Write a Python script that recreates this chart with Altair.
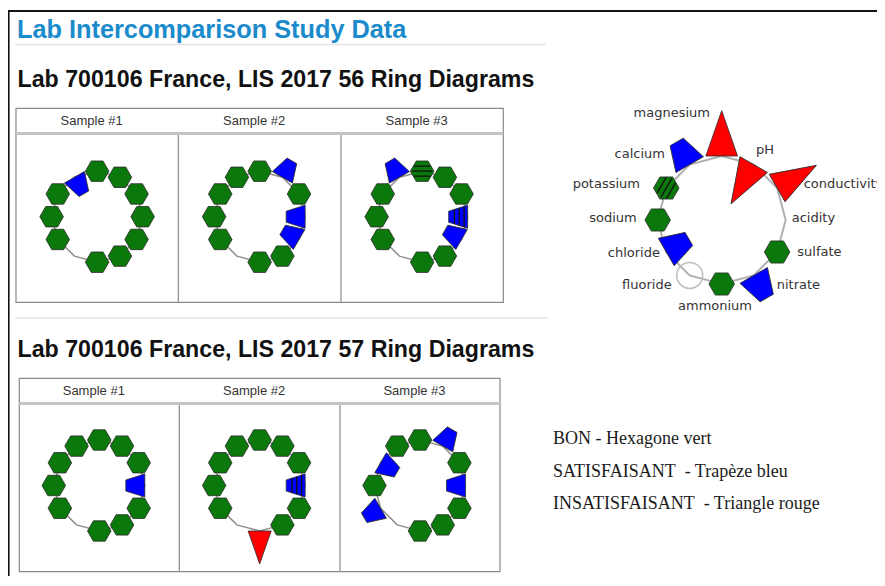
import math
import altair as alt
import pandas as pd

# ---------------- data ----------------
ANALYTES = ["magnesium", "pH", "conductivity", "acidity", "sulfate", "nitrate",
            "ammonium", "fluoride", "chloride", "sodium", "potassium", "calcium"]

# status codes: G good (hexagon), GH good hatched, SO/SI satisfactory (trapezoid out/in),
# SIH satisfactory inward hatched, UO/UI unsatisfactory (triangle out/in), NA no result (open circle), - absent
STUDY56_S1 = ["G", "G", "G", "G", "G", "G", "G", "-", "G", "G", "G", "SI"]
STUDY56_S2 = ["G", "SO", "G", "SI", "SI", "G", "G", "-", "G", "G", "G", "G"]
STUDY56_S3 = ["GH", "G", "G", "SIH", "SI", "G", "G", "-", "G", "G", "G", "SO"]
STUDY57_S1 = ["G", "G", "G", "SI", "G", "G", "G", "-", "G", "G", "G", "G"]
STUDY57_S2 = ["G", "G", "G", "SIH", "G", "G", "UO", "-", "G", "G", "G", "G"]
STUDY57_S3 = ["G", "SO", "G", "SI", "G", "G", "G", "-", "SO", "G", "SI", "G"]
LEGEND_RING = ["UO", "UI", "UO", "-", "G", "SO", "G", "NA", "SI", "G", "GH", "SO"]

SAMPLES = ["Sample #1", "Sample #2", "Sample #3"]
PAGE_TITLE = "Lab Intercomparison Study Data"
STUDY_TITLES = ["Lab 700106 France, LIS 2017 56 Ring Diagrams",
                "Lab 700106 France, LIS 2017 57 Ring Diagrams"]
KEY_LINES = ["BON - Hexagone vert",
             "SATISFAISANT\u00a0 - Trap\u00e8ze bleu",
             "INSATISFAISANT\u00a0 - Triangle rouge"]

# ---------------- layout / style ----------------
X0, X1 = 8, 877
Y0, Y1 = 8, 576
W, H = X1 - X0, Y1 - Y0
XS = alt.Scale(domain=[X0, X1], nice=False, zero=False)
YS = alt.Scale(domain=[Y0, Y1], nice=False, zero=False, reverse=True)

GREEN, BLUE, RED = "#0a780a", "#0000ff", "#ff0000"
TABLES = [
    dict(left=16, right=503.3, top=108.3, sep=133.6, bottom=302.3, cols=[178.3, 341.0],
         title_y=87, head_y=120.7, cy=216.7),
    dict(left=19.3, right=500.0, top=378.3, sep=403.6, bottom=571.7, cols=[179.3, 340.0],
         title_y=357, head_y=390.7, cy=485.5),
]
STUDIES = [[STUDY56_S1, STUDY56_S2, STUDY56_S3], [STUDY57_S1, STUDY57_S2, STUDY57_S3]]
RING_R, RING_K, RING_HEX_K = 45.5, 12, 13.1
LEG_CX, LEG_CY, LEG_R, LEG_K, LEG_HEX_K = 721.7, 220, 64, 16.5, 14.2
LABEL_OFFSETS = [(-11.7, -42.7, "right"), (2.3, -14.6, "left"), (26.5, -3.7, "left"),
                 (6, -2.3, "left"), (20.2, -0.3, "left"), (23, 9.6, "left"),
                 (-6.7, 21.7, "center"), (-18, 9.6, "right"), (-6.3, 1.3, "right"),
                 (-21, -1.7, "right"), (-26.3, -3.7, "right"), (-24.7, -10.3, "right")]

HEX = "M0.9,0L0.45,0.78L-0.45,0.78L-0.9,0L-0.45,-0.78L0.45,-0.78Z"
HEX_HATCH = "M-0.38,-0.64L-0.38,0.64M0,-0.76L0,0.76M0.38,-0.64L0.38,0.64"
TRAP_OUT = "M0,-0.96L1.58,-0.46L1.58,0.46L0,0.96Z"
TRAP_IN = "M0,-0.96L-1.58,-0.46L-1.58,0.46L0,0.96Z"
TRAP_IN_HATCH = "M-0.3,-0.86L-0.3,0.86M-0.7,-0.74L-0.7,0.74M-1.1,-0.61L-1.1,0.61"
TRI_OUT = "M0,-0.96L2.75,0L0,0.96Z"
TRI_IN = "M0,-0.96L-2.75,0L0,0.96Z"

KIND = {"G": "hex", "GH": "hex", "SO": "trap_out", "SI": "trap_in", "SIH": "trap_in",
        "UO": "tri_out", "UI": "tri_in"}

# ---------------- build tables ----------------
marks, ring, labels = [], [], []


def add_ring(panel, statuses, cx, cy, R, k, hexk, with_labels=False):
    for j in range(13):
        i = j % 12
        th = math.radians(90 - 30 * i)
        ring.append(dict(panel=panel, ord=j, x=cx + R * math.cos(th), y=cy - R * math.sin(th)))
    for i, st in enumerate(statuses):
        th = math.radians(90 - 30 * i)
        x, y = cx + R * math.cos(th), cy - R * math.sin(th)
        rot = (30 * i + 270) % 360
        kind = KIND.get(st, st)
        kk = hexk if kind == "hex" else k
        marks.append(dict(panel=panel, analyte=ANALYTES[i], status=st, kind=kind,
                          hatch=st in ("GH", "SIH"), x=x, y=y,
                          rot=0 if kind == "hex" else rot, hrot=rot, sz=4 * kk * kk))
        if with_labels:
            dx, dy, al = LABEL_OFFSETS[i]
            labels.append(dict(text=ANALYTES[i], x=x + dx, y=y + dy, anchor=al))


for t, study in zip(TABLES, STUDIES):
    edges = [t["left"]] + t["cols"] + [t["right"]]
    for s, statuses in enumerate(study):
        cx = (edges[s] + edges[s + 1]) / 2
        add_ring(f"{t['title_y']}-{s}", statuses, cx, t["cy"], RING_R, RING_K, RING_HEX_K)
add_ring("legend", LEGEND_RING, LEG_CX, LEG_CY, LEG_R, LEG_K, LEG_HEX_K, with_labels=True)

mdf = pd.DataFrame(marks)
rdf = pd.DataFrame(ring)
ldf = pd.DataFrame(labels)


def X(f="x"):
    return alt.X(f"{f}:Q", scale=XS, axis=None)


def Y(f="y"):
    return alt.Y(f"{f}:Q", scale=YS, axis=None)


layers = []

# frame
frame = pd.DataFrame([dict(x=X0, x2=X1, y=11, y2=11), dict(x=8.6, x2=8.6, y=11, y2=Y1)])
layers.append(alt.Chart(frame).mark_rule(color="#111", strokeWidth=2).encode(
    x=X(), x2="x2:Q", y=Y(), y2="y2:Q"))

# light separators
seps = pd.DataFrame([dict(x=15, x2=546, y=44.5, y2=44.5), dict(x=15, x2=548, y=318, y2=318)])
layers.append(alt.Chart(seps).mark_rule(color="#e4e4e4", strokeWidth=1.5).encode(
    x=X(), x2="x2:Q", y=Y(), y2="y2:Q"))

# tables
boxes, inner, heads, titles = [], [], [], []
for t, ttl in zip(TABLES, STUDY_TITLES):
    boxes.append(dict(x=t["left"], x2=t["right"], y=t["top"], y2=t["bottom"]))
    inner.append(dict(x=t["left"], x2=t["right"], y=t["sep"], y2=t["sep"], w=3))
    for c in t["cols"]:
        inner.append(dict(x=c, x2=c, y=t["sep"] + 1.5, y2=t["bottom"], w=1.2))
    edges = [t["left"]] + t["cols"] + [t["right"]]
    for s, name in enumerate(SAMPLES):
        heads.append(dict(text=name, x=(edges[s] + edges[s + 1]) / 2 - 5.5, y=t["head_y"]))
    titles.append(dict(text=ttl, x=17.5, y=t["title_y"]))

layers.append(alt.Chart(pd.DataFrame(boxes)).mark_rect(
    fill="white", fillOpacity=0, stroke="#8a8a8a", strokeWidth=1.2).encode(
    x=X(), x2="x2:Q", y=Y(), y2="y2:Q"))
idf = pd.DataFrame(inner)
for w, c in [(3, "#c4c4c4"), (1.2, "#8a8a8a")]:
    layers.append(alt.Chart(idf[idf["w"] == w]).mark_rule(color=c, strokeWidth=w).encode(
        x=X(), x2="x2:Q", y=Y(), y2="y2:Q"))

# texts
layers.append(alt.Chart(pd.DataFrame([dict(text=PAGE_TITLE, x=17, y=37.5)])).mark_text(
    align="left", baseline="alphabetic", font="Liberation Sans", fontSize=25.3,
    fontWeight="bold", color="#1b8bcb").encode(x=X(), y=Y(), text="text:N"))
layers.append(alt.Chart(pd.DataFrame(titles)).mark_text(
    align="left", baseline="alphabetic", font="Liberation Sans", fontSize=23.2,
    fontWeight="bold", color="#111").encode(x=X(), y=Y(), text="text:N"))
layers.append(alt.Chart(pd.DataFrame(heads)).mark_text(
    align="center", baseline="middle", font="Liberation Sans", fontSize=13,
    color="#333").encode(x=X(), y=Y(), text="text:N"))
key = pd.DataFrame([dict(text=s, x=553, y=444.3 + 32.5 * i) for i, s in enumerate(KEY_LINES)])
layers.append(alt.Chart(key).mark_text(
    align="left", baseline="alphabetic", font="Liberation Serif", fontSize=18,
    color="#1a1a1a").encode(x=X(), y=Y(), text="text:N"))

# ring lines
layers.append(alt.Chart(rdf[rdf["panel"] != "legend"]).mark_line(color="#8f8f8f", strokeWidth=1.5).encode(
    x=X(), y=Y(), detail="panel:N", order="ord:Q"))
layers.append(alt.Chart(rdf[rdf["panel"] == "legend"]).mark_line(color="#b0b0b0", strokeWidth=2).encode(
    x=X(), y=Y(), detail="panel:N", order="ord:Q"))

# markers
dom = ["hex", "trap_out", "trap_in", "tri_out", "tri_in"]
filled = mdf[mdf["kind"].isin(dom)]
layers.append(alt.Chart(filled).mark_point(filled=True, opacity=1, stroke="#2b2b2b", strokeWidth=0.8).encode(
    x=X(), y=Y(),
    shape=alt.Shape("kind:N", scale=alt.Scale(domain=dom, range=[HEX, TRAP_OUT, TRAP_IN, TRI_OUT, TRI_IN]), legend=None),
    fill=alt.Fill("kind:N", scale=alt.Scale(domain=dom, range=[GREEN, BLUE, BLUE, RED, RED]), legend=None),
    size=alt.Size("sz:Q", scale=None, legend=None),
    angle=alt.Angle("rot:Q", scale=None),
))
for kind, path in [("hex", HEX_HATCH), ("trap_in", TRAP_IN_HATCH)]:
    sub = mdf[(mdf["kind"] == kind) & (mdf["hatch"])]
    layers.append(alt.Chart(sub).mark_point(shape=path, filled=False, opacity=1, stroke="#111", strokeWidth=1.3).encode(
        x=X(), y=Y(), size=alt.Size("sz:Q", scale=None, legend=None), angle=alt.Angle("hrot:Q", scale=None)))
na = mdf[mdf["status"] == "NA"].assign(csz=676)
layers.append(alt.Chart(na).mark_point(shape="circle", filled=False, opacity=1, stroke="#bdbdbd", strokeWidth=1.5).encode(
    x=X(), y=Y(), size=alt.Size("csz:Q", scale=None, legend=None)))

# legend labels
for al in ["left", "right", "center"]:
    layers.append(alt.Chart(ldf[ldf["anchor"] == al]).mark_text(
        align=al, baseline="middle", font="DejaVu Sans", fontSize=13, color="#333").encode(
        x=X(), y=Y(), text="text:N"))

chart = alt.layer(*layers).properties(
    width=W, height=H, autosize=alt.AutoSizeParams(type="none"), padding=0, background="white"
).configure_view(strokeWidth=0)

chart.save("out.html", embed_options={"renderer": "svg", "actions": False})
